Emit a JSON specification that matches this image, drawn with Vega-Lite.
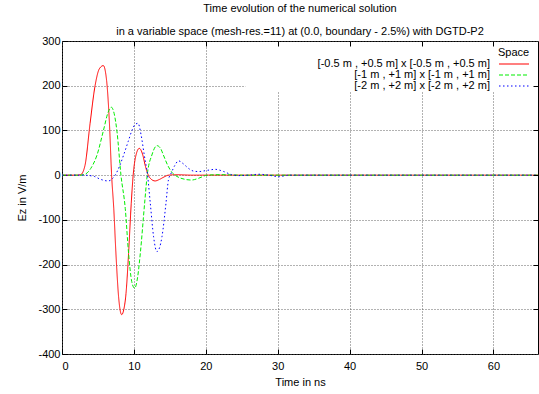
{
  "$schema": "https://vega.github.io/schema/vega-lite/v6.json",
  "width": 476,
  "height": 313,
  "autosize": {"type": "none"},
  "padding": {"left": 62, "top": 41, "right": 1, "bottom": 40},
  "background": "white",
  "config": {
    "font": "Liberation Sans",
    "view": {"stroke": "#000000", "strokeWidth": 1},
    "axis": {"labelFont": "Liberation Sans", "titleFont": "Liberation Sans", "labelFontSize": 11, "titleFontSize": 11, "labelColor": "#000", "titleColor": "#000", "titleFontWeight": "normal", "domain": false, "tickColor": "#000", "tickSize": -5, "gridColor": "#555", "gridDash": [1, 2], "gridOpacity": 0.9}
  },
  "title": {
    "text": ["Time evolution of the numerical solution", "in a variable space (mesh-res.=11) at (0.0, boundary - 2.5%) with DGTD-P2"],
    "font": "Liberation Sans", "fontSize": 11, "fontWeight": "normal", "color": "#000",
    "lineHeight": 23, "anchor": "middle", "frame": "group", "offset": -2
  },
  "resolve": {"axis": {"x": "independent", "y": "independent"}},
  "layer": [
    {
      "data": {"values": [{}]},
      "mark": {"type": "rect", "fill": "white", "stroke": null},
      "encoding": {
        "x": {"datum": 25.5, "type": "quantitative", "scale": {"domain": [0, 66.2], "nice": false, "zero": false},
              "axis": {"orient": "top", "labels": false, "grid": false, "title": null, "values": [10, 20, 30, 40, 50, 60], "zindex": 1}},
        "x2": {"datum": 66.0},
        "y": {"datum": 188, "type": "quantitative", "scale": {"domain": [-400, 300], "nice": false, "zero": false},
              "axis": {"orient": "right", "labels": false, "grid": false, "title": null, "values": [-300, -200, -100, 0, 100, 200], "zindex": 1}},
        "y2": {"datum": 298}
      }
    },
    {
      "data": {"values": [
        {"t": 0, "v": 0, "s": "[-0.5 m , +0.5 m] x [-0.5 m , +0.5 m]"},
        {"t": 2, "v": 0, "s": "[-0.5 m , +0.5 m] x [-0.5 m , +0.5 m]"},
        {"t": 2.6, "v": 1, "s": "[-0.5 m , +0.5 m] x [-0.5 m , +0.5 m]"},
        {"t": 3.2, "v": 22, "s": "[-0.5 m , +0.5 m] x [-0.5 m , +0.5 m]"},
        {"t": 3.9, "v": 115, "s": "[-0.5 m , +0.5 m] x [-0.5 m , +0.5 m]"},
        {"t": 4.6, "v": 200, "s": "[-0.5 m , +0.5 m] x [-0.5 m , +0.5 m]"},
        {"t": 5.2, "v": 238, "s": "[-0.5 m , +0.5 m] x [-0.5 m , +0.5 m]"},
        {"t": 5.75, "v": 245, "s": "[-0.5 m , +0.5 m] x [-0.5 m , +0.5 m]"},
        {"t": 6.2, "v": 212, "s": "[-0.5 m , +0.5 m] x [-0.5 m , +0.5 m]"},
        {"t": 6.6, "v": 115, "s": "[-0.5 m , +0.5 m] x [-0.5 m , +0.5 m]"},
        {"t": 6.9, "v": 0, "s": "[-0.5 m , +0.5 m] x [-0.5 m , +0.5 m]"},
        {"t": 7.2, "v": -75, "s": "[-0.5 m , +0.5 m] x [-0.5 m , +0.5 m]"},
        {"t": 7.5, "v": -175, "s": "[-0.5 m , +0.5 m] x [-0.5 m , +0.5 m]"},
        {"t": 7.87, "v": -272, "s": "[-0.5 m , +0.5 m] x [-0.5 m , +0.5 m]"},
        {"t": 8.3, "v": -312, "s": "[-0.5 m , +0.5 m] x [-0.5 m , +0.5 m]"},
        {"t": 8.6, "v": -300, "s": "[-0.5 m , +0.5 m] x [-0.5 m , +0.5 m]"},
        {"t": 8.9, "v": -265, "s": "[-0.5 m , +0.5 m] x [-0.5 m , +0.5 m]"},
        {"t": 9.26, "v": -175, "s": "[-0.5 m , +0.5 m] x [-0.5 m , +0.5 m]"},
        {"t": 9.63, "v": -63, "s": "[-0.5 m , +0.5 m] x [-0.5 m , +0.5 m]"},
        {"t": 9.9, "v": 0, "s": "[-0.5 m , +0.5 m] x [-0.5 m , +0.5 m]"},
        {"t": 10.25, "v": 42, "s": "[-0.5 m , +0.5 m] x [-0.5 m , +0.5 m]"},
        {"t": 10.75, "v": 60, "s": "[-0.5 m , +0.5 m] x [-0.5 m , +0.5 m]"},
        {"t": 11.2, "v": 47, "s": "[-0.5 m , +0.5 m] x [-0.5 m , +0.5 m]"},
        {"t": 11.6, "v": 20, "s": "[-0.5 m , +0.5 m] x [-0.5 m , +0.5 m]"},
        {"t": 12.0, "v": 0, "s": "[-0.5 m , +0.5 m] x [-0.5 m , +0.5 m]"},
        {"t": 12.4, "v": -9, "s": "[-0.5 m , +0.5 m] x [-0.5 m , +0.5 m]"},
        {"t": 12.95, "v": -13, "s": "[-0.5 m , +0.5 m] x [-0.5 m , +0.5 m]"},
        {"t": 13.5, "v": -10, "s": "[-0.5 m , +0.5 m] x [-0.5 m , +0.5 m]"},
        {"t": 14.2, "v": -4, "s": "[-0.5 m , +0.5 m] x [-0.5 m , +0.5 m]"},
        {"t": 14.8, "v": 0, "s": "[-0.5 m , +0.5 m] x [-0.5 m , +0.5 m]"},
        {"t": 16, "v": 1, "s": "[-0.5 m , +0.5 m] x [-0.5 m , +0.5 m]"},
        {"t": 18, "v": 0, "s": "[-0.5 m , +0.5 m] x [-0.5 m , +0.5 m]"},
        {"t": 25, "v": 0, "s": "[-0.5 m , +0.5 m] x [-0.5 m , +0.5 m]"},
        {"t": 35, "v": 0, "s": "[-0.5 m , +0.5 m] x [-0.5 m , +0.5 m]"},
        {"t": 45, "v": 0, "s": "[-0.5 m , +0.5 m] x [-0.5 m , +0.5 m]"},
        {"t": 55, "v": 0, "s": "[-0.5 m , +0.5 m] x [-0.5 m , +0.5 m]"},
        {"t": 66.2, "v": 0, "s": "[-0.5 m , +0.5 m] x [-0.5 m , +0.5 m]"},

        {"t": 0, "v": 0, "s": "[-1 m , +1 m] x [-1 m , +1 m]"},
        {"t": 2.5, "v": 0, "s": "[-1 m , +1 m] x [-1 m , +1 m]"},
        {"t": 3.2, "v": 2, "s": "[-1 m , +1 m] x [-1 m , +1 m]"},
        {"t": 4.0, "v": 15, "s": "[-1 m , +1 m] x [-1 m , +1 m]"},
        {"t": 4.87, "v": 45, "s": "[-1 m , +1 m] x [-1 m , +1 m]"},
        {"t": 5.78, "v": 101, "s": "[-1 m , +1 m] x [-1 m , +1 m]"},
        {"t": 6.4, "v": 140, "s": "[-1 m , +1 m] x [-1 m , +1 m]"},
        {"t": 6.85, "v": 152, "s": "[-1 m , +1 m] x [-1 m , +1 m]"},
        {"t": 7.25, "v": 138, "s": "[-1 m , +1 m] x [-1 m , +1 m]"},
        {"t": 7.65, "v": 97, "s": "[-1 m , +1 m] x [-1 m , +1 m]"},
        {"t": 8.2, "v": 0, "s": "[-1 m , +1 m] x [-1 m , +1 m]"},
        {"t": 8.8, "v": -75, "s": "[-1 m , +1 m] x [-1 m , +1 m]"},
        {"t": 9.26, "v": -175, "s": "[-1 m , +1 m] x [-1 m , +1 m]"},
        {"t": 9.7, "v": -238, "s": "[-1 m , +1 m] x [-1 m , +1 m]"},
        {"t": 10.1, "v": -253, "s": "[-1 m , +1 m] x [-1 m , +1 m]"},
        {"t": 10.5, "v": -230, "s": "[-1 m , +1 m] x [-1 m , +1 m]"},
        {"t": 10.89, "v": -175, "s": "[-1 m , +1 m] x [-1 m , +1 m]"},
        {"t": 11.49, "v": -63, "s": "[-1 m , +1 m] x [-1 m , +1 m]"},
        {"t": 11.85, "v": 0, "s": "[-1 m , +1 m] x [-1 m , +1 m]"},
        {"t": 12.5, "v": 45, "s": "[-1 m , +1 m] x [-1 m , +1 m]"},
        {"t": 13.2, "v": 66, "s": "[-1 m , +1 m] x [-1 m , +1 m]"},
        {"t": 13.7, "v": 60, "s": "[-1 m , +1 m] x [-1 m , +1 m]"},
        {"t": 14.1, "v": 45, "s": "[-1 m , +1 m] x [-1 m , +1 m]"},
        {"t": 14.7, "v": 22, "s": "[-1 m , +1 m] x [-1 m , +1 m]"},
        {"t": 15.3, "v": 6, "s": "[-1 m , +1 m] x [-1 m , +1 m]"},
        {"t": 16, "v": -3, "s": "[-1 m , +1 m] x [-1 m , +1 m]"},
        {"t": 17, "v": -9, "s": "[-1 m , +1 m] x [-1 m , +1 m]"},
        {"t": 18, "v": -11, "s": "[-1 m , +1 m] x [-1 m , +1 m]"},
        {"t": 19, "v": -7, "s": "[-1 m , +1 m] x [-1 m , +1 m]"},
        {"t": 20.2, "v": 0, "s": "[-1 m , +1 m] x [-1 m , +1 m]"},
        {"t": 22, "v": 1, "s": "[-1 m , +1 m] x [-1 m , +1 m]"},
        {"t": 25, "v": 0, "s": "[-1 m , +1 m] x [-1 m , +1 m]"},
        {"t": 35, "v": 0, "s": "[-1 m , +1 m] x [-1 m , +1 m]"},
        {"t": 45, "v": 0, "s": "[-1 m , +1 m] x [-1 m , +1 m]"},
        {"t": 55, "v": 0, "s": "[-1 m , +1 m] x [-1 m , +1 m]"},
        {"t": 66.2, "v": 0, "s": "[-1 m , +1 m] x [-1 m , +1 m]"},

        {"t": 0, "v": 0, "s": "[-2 m , +2 m] x [-2 m , +2 m]"},
        {"t": 3, "v": 0, "s": "[-2 m , +2 m] x [-2 m , +2 m]"},
        {"t": 4.5, "v": -3, "s": "[-2 m , +2 m] x [-2 m , +2 m]"},
        {"t": 5.3, "v": -9, "s": "[-2 m , +2 m] x [-2 m , +2 m]"},
        {"t": 6.45, "v": -13, "s": "[-2 m , +2 m] x [-2 m , +2 m]"},
        {"t": 7.0, "v": -8, "s": "[-2 m , +2 m] x [-2 m , +2 m]"},
        {"t": 7.4, "v": 0, "s": "[-2 m , +2 m] x [-2 m , +2 m]"},
        {"t": 8.0, "v": 20, "s": "[-2 m , +2 m] x [-2 m , +2 m]"},
        {"t": 8.57, "v": 45, "s": "[-2 m , +2 m] x [-2 m , +2 m]"},
        {"t": 9.2, "v": 75, "s": "[-2 m , +2 m] x [-2 m , +2 m]"},
        {"t": 9.73, "v": 100, "s": "[-2 m , +2 m] x [-2 m , +2 m]"},
        {"t": 10.15, "v": 113, "s": "[-2 m , +2 m] x [-2 m , +2 m]"},
        {"t": 10.57, "v": 116, "s": "[-2 m , +2 m] x [-2 m , +2 m]"},
        {"t": 11.0, "v": 90, "s": "[-2 m , +2 m] x [-2 m , +2 m]"},
        {"t": 11.44, "v": 45, "s": "[-2 m , +2 m] x [-2 m , +2 m]"},
        {"t": 11.9, "v": 0, "s": "[-2 m , +2 m] x [-2 m , +2 m]"},
        {"t": 12.28, "v": -63, "s": "[-2 m , +2 m] x [-2 m , +2 m]"},
        {"t": 12.74, "v": -138, "s": "[-2 m , +2 m] x [-2 m , +2 m]"},
        {"t": 13.2, "v": -171, "s": "[-2 m , +2 m] x [-2 m , +2 m]"},
        {"t": 13.55, "v": -163, "s": "[-2 m , +2 m] x [-2 m , +2 m]"},
        {"t": 13.9, "v": -138, "s": "[-2 m , +2 m] x [-2 m , +2 m]"},
        {"t": 14.46, "v": -63, "s": "[-2 m , +2 m] x [-2 m , +2 m]"},
        {"t": 14.8, "v": -11, "s": "[-2 m , +2 m] x [-2 m , +2 m]"},
        {"t": 15.2, "v": 5, "s": "[-2 m , +2 m] x [-2 m , +2 m]"},
        {"t": 15.7, "v": 22, "s": "[-2 m , +2 m] x [-2 m , +2 m]"},
        {"t": 16.2, "v": 32, "s": "[-2 m , +2 m] x [-2 m , +2 m]"},
        {"t": 16.9, "v": 25, "s": "[-2 m , +2 m] x [-2 m , +2 m]"},
        {"t": 17.6, "v": 15, "s": "[-2 m , +2 m] x [-2 m , +2 m]"},
        {"t": 18.3, "v": 9, "s": "[-2 m , +2 m] x [-2 m , +2 m]"},
        {"t": 19, "v": 8, "s": "[-2 m , +2 m] x [-2 m , +2 m]"},
        {"t": 20.3, "v": 11, "s": "[-2 m , +2 m] x [-2 m , +2 m]"},
        {"t": 21.3, "v": 13, "s": "[-2 m , +2 m] x [-2 m , +2 m]"},
        {"t": 22.5, "v": 8, "s": "[-2 m , +2 m] x [-2 m , +2 m]"},
        {"t": 23.6, "v": 1, "s": "[-2 m , +2 m] x [-2 m , +2 m]"},
        {"t": 24.6, "v": -1, "s": "[-2 m , +2 m] x [-2 m , +2 m]"},
        {"t": 26, "v": 0, "s": "[-2 m , +2 m] x [-2 m , +2 m]"},
        {"t": 27.4, "v": 2, "s": "[-2 m , +2 m] x [-2 m , +2 m]"},
        {"t": 28.7, "v": 0, "s": "[-2 m , +2 m] x [-2 m , +2 m]"},
        {"t": 30.2, "v": -3.5, "s": "[-2 m , +2 m] x [-2 m , +2 m]"},
        {"t": 31.5, "v": 0, "s": "[-2 m , +2 m] x [-2 m , +2 m]"},
        {"t": 35, "v": 0, "s": "[-2 m , +2 m] x [-2 m , +2 m]"},
        {"t": 45, "v": 0, "s": "[-2 m , +2 m] x [-2 m , +2 m]"},
        {"t": 55, "v": 0, "s": "[-2 m , +2 m] x [-2 m , +2 m]"},
        {"t": 66.2, "v": 0, "s": "[-2 m , +2 m] x [-2 m , +2 m]"}
      ]},
      "mark": {"type": "line", "interpolate": "monotone", "strokeWidth": 1, "clip": true},
      "encoding": {
        "x": {"field": "t", "type": "quantitative", "scale": {"domain": [0, 66.2], "nice": false, "zero": false},
              "axis": {"orient": "bottom", "title": "Time in ns", "values": [0, 10, 20, 30, 40, 50, 60], "grid": true, "labelExpr": "datum.value + ''", "labelPadding": 11, "titlePadding": 5}},
        "y": {"field": "v", "type": "quantitative", "scale": {"domain": [-400, 300], "nice": false, "zero": false},
              "axis": {"orient": "left", "title": "Ez in V/m", "values": [-400, -300, -200, -100, 0, 100, 200, 300], "grid": true, "labelExpr": "datum.value + ''", "labelPadding": 7, "titlePadding": 10}},
        "color": {"field": "s", "type": "nominal", "title": "Space",
                  "scale": {"domain": ["[-0.5 m , +0.5 m] x [-0.5 m , +0.5 m]", "[-1 m , +1 m] x [-1 m , +1 m]", "[-2 m , +2 m] x [-2 m , +2 m]"], "range": ["#ff0000", "#00ee00", "#0000ff"]},
                  "legend": {"orient": "none", "legendX": 436, "legendY": 6, "padding": 0, "symbolType": "M-1,0H5", "symbolSize": 100, "symbolStrokeWidth": 1.2, "symbolOffset": 0,
                             "labelAlign": "right", "labelOffset": -20, "labelFontSize": 11, "labelFont": "Liberation Sans", "labelColor": "#000", "labelLimit": 400,
                             "titleFontSize": 11, "titleFont": "Liberation Sans", "titleFontWeight": "normal", "titleColor": "#000", "titleAnchor": "start", "titleAlign": "left", "titlePadding": 0,
                             "rowPadding": 0}},
        "strokeDash": {"field": "s", "type": "nominal", "title": "Space",
                  "scale": {"domain": ["[-0.5 m , +0.5 m] x [-0.5 m , +0.5 m]", "[-1 m , +1 m] x [-1 m , +1 m]", "[-2 m , +2 m] x [-2 m , +2 m]"], "range": [[1, 0], [4, 2], [1.5, 2.5]]}}
      }
    }
  ]
}
